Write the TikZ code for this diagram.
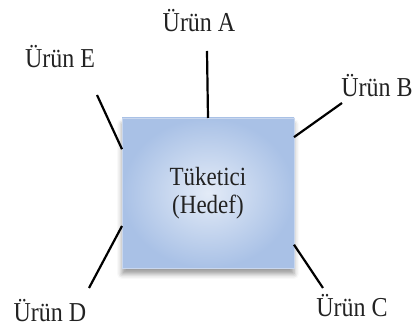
\documentclass[tikz,border=0pt]{standalone}
\usepackage{fontspec}
\setmainfont{Liberation Serif}
\usetikzlibrary{shadows.blur}
\definecolor{boxin}{HTML}{E3EBF7}
\definecolor{boxout}{HTML}{A9C1E6}
\definecolor{boxedge}{HTML}{C9D7EE}
\definecolor{txt}{HTML}{222222}
\newcommand{\tallt}[1]{\scalebox{1}[1.14]{#1}}
\tikzset{
  lbl/.style={font=\fontsize{24}{28}\selectfont, text=txt, anchor=base, inner sep=0pt},
  link/.style={draw=black, line width=2.2pt},
  target/.style={minimum width=172pt, minimum height=150pt, outer sep=0pt,
    inner color=boxin, outer color=boxout, draw=boxedge, line width=0.6pt,
    align=center, text=txt, font=\fontsize{23}{27}\selectfont,
    blur shadow={shadow xshift=0pt, shadow yshift=-6pt, shadow blur radius=5pt, shadow opacity=40}}
}
\begin{document}
\begin{tikzpicture}[x=1pt,y=1pt]
\useasboundingbox (0,0) rectangle (413,329);
\node[target] (box) at (208,136) {\tallt{Tüketici}\\[1pt]\tallt{(Hedef)}};
\coordinate (ea) at (207,278);
\coordinate (ee) at (97,234);
\coordinate (eb) at (342,226);
\coordinate (ec) at (323,41);
\coordinate (ed) at (89,41);
\draw[link] (box.north) -- (ea);
\draw[link] (box.153.4) -- (ee);
\draw[link] (box.33.5) -- (eb);
\draw[link] (box.-31.2) -- (ec);
\draw[link] (box.201) -- (ed);
\node[lbl] (la) at (199,297) {\tallt{Ürün A}};
\node[lbl] (le) at (60,261) {\tallt{Ürün E}};
\node[lbl] (lb) at (377,232) {\tallt{Ürün B}};
\node[lbl] (lc) at (352,12) {\tallt{Ürün C}};
\node[lbl] (ld) at (50,7) {\tallt{Ürün D}};
\end{tikzpicture}
\end{document}
